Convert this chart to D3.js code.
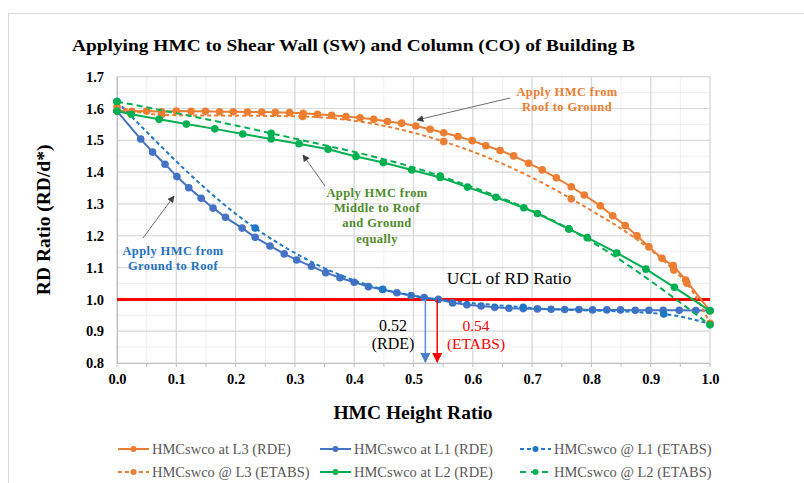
<!DOCTYPE html>
<html><head><meta charset="utf-8">
<script src="https://cdn.jsdelivr.net/npm/d3@7/dist/d3.min.js"></script>
<style>body{margin:0;background:#fff;} svg{display:block;font-family:"Liberation Serif","Times New Roman",serif;}</style>
</head><body><svg id="c" width="804" height="483"></svg>
<script>
// ---------- data ----------
const xTickValues = [0.0,0.1,0.2,0.3,0.4,0.5,0.6,0.7,0.8,0.9,1.0];
const yTickValues = [0.8,0.9,1.0,1.1,1.2,1.3,1.4,1.5,1.6,1.7];
const uclValue = 1.0;

const L3_RDE = [[0,1.592],[0.025,1.591],[0.050,1.592],[0.075,1.590],[0.100,1.592],[0.125,1.591],[0.149,1.591],[0.173,1.590],[0.196,1.590],[0.220,1.589],[0.244,1.589],[0.267,1.588],[0.291,1.587],[0.314,1.585],[0.338,1.582],[0.362,1.579],[0.386,1.575],[0.410,1.571],[0.433,1.566],[0.456,1.559],[0.480,1.554],[0.504,1.545],[0.528,1.535],[0.551,1.524],[0.575,1.512],[0.599,1.499],[0.622,1.483],[0.646,1.468],[0.669,1.451],[0.694,1.428],[0.717,1.407],[0.741,1.382],[0.766,1.354],[0.788,1.328],[0.815,1.294],[0.836,1.263],[0.857,1.232],[0.877,1.200],[0.897,1.165],[0.919,1.129],[0.938,1.106],[0.959,1.061],[1.0,0.964]];
const L1_RDE = [[0,1.592],[0.040,1.504],[0.060,1.463],[0.081,1.425],[0.101,1.386],[0.121,1.351],[0.142,1.318],[0.162,1.287],[0.183,1.258],[0.211,1.224],[0.233,1.195],[0.258,1.168],[0.282,1.143],[0.303,1.124],[0.328,1.104],[0.352,1.084],[0.376,1.068],[0.400,1.054],[0.424,1.040],[0.448,1.031],[0.472,1.021],[0.496,1.012],[0.518,1.006],[0.542,1.000],[0.566,0.989],[0.590,0.983],[0.614,0.979],[0.637,0.975],[0.661,0.972],[0.685,0.971],[0.709,0.970],[0.732,0.969],[0.755,0.968],[0.779,0.968],[0.802,0.967],[0.826,0.967],[0.849,0.967],[0.874,0.966],[0.897,0.966],[0.921,0.966],[0.948,0.966],[0.976,0.965],[1.0,0.965]];
const L1_ETABS = [[0,1.622],[0.233,1.224],[0.448,1.032],[0.685,0.975],[0.922,0.954],[1.0,0.923]];
const L3_ETABS = [[0,1.606],[0.075,1.580],[0.313,1.575],[0.551,1.496],[0.766,1.316],[0.939,1.092],[0.961,1.051],[1.0,0.925]];
const L2_RDE = [[0,1.592],[0.024,1.582],[0.071,1.566],[0.117,1.551],[0.165,1.536],[0.212,1.520],[0.260,1.504],[0.307,1.489],[0.356,1.472],[0.403,1.449],[0.449,1.430],[0.497,1.407],[0.545,1.383],[0.591,1.353],[0.639,1.321],[0.686,1.288],[0.709,1.270],[0.762,1.221],[0.793,1.194],[0.843,1.146],[0.892,1.095],[0.940,1.038],[1.0,0.964]];
const L2_ETABS = [[0,1.622],[0.260,1.522],[0.545,1.388],[0.762,1.222],[1.0,0.920]];

const seriesNames = ["HMCswco at L3 (RDE)","HMCswco at L1 (RDE)","HMCswco @ L1 (ETABS)","HMCswco @ L3 (ETABS)","HMCswco at L2 (RDE)","HMCswco @ L2 (ETABS)"];
const rdeMark = 0.52, etabsMark = 0.54;

// ---------- chart ----------
const svg = d3.select("#c");
const x = d3.scaleLinear().domain([0,1]).range([117,710]);
const y = d3.scaleLinear().domain([0.8,1.7]).range([363,76.7]);

// outer chart border
svg.append("rect").attr("x",8.5).attr("y",13.5).attr("width",820).attr("height",500)
  .attr("fill","none").attr("stroke","#D9D9D9");

// title
svg.append("text").attr("x",72).attr("y",51).attr("font-size",17.5).attr("font-weight","bold")
  .attr("fill","#000").attr("textLength",563).attr("lengthAdjust","spacingAndGlyphs")
  .text("Applying HMC to Shear Wall (SW) and Column (CO) of Building B");

// grid
const g = svg.append("g");
const minorX = d3.range(0,21).map(i=>i*0.05);
const minorY = d3.range(0,19).map(i=>0.8+i*0.05);
g.selectAll(".mx").data(minorX).join("line").attr("x1",d=>x(d)).attr("x2",d=>x(d)).attr("y1",y(0.8)).attr("y2",y(1.7)).attr("stroke","#F0F0F0").attr("stroke-width",1);
g.selectAll(".my").data(minorY).join("line").attr("y1",d=>y(d)).attr("y2",d=>y(d)).attr("x1",x(0)).attr("x2",x(1)).attr("stroke","#F0F0F0").attr("stroke-width",1);
g.selectAll(".gx").data(xTickValues).join("line").attr("x1",d=>x(d)).attr("x2",d=>x(d)).attr("y1",y(0.8)).attr("y2",y(1.7)).attr("stroke","#D9D9D9").attr("stroke-width",1.2);
g.selectAll(".gy").data(yTickValues).join("line").attr("y1",d=>y(d)).attr("y2",d=>y(d)).attr("x1",x(0)).attr("x2",x(1)).attr("stroke","#D9D9D9").attr("stroke-width",1.2);

// axes
const xAxis = d3.axisBottom(x).tickValues(xTickValues).tickFormat(d3.format(".1f")).tickSize(0).tickPadding(11);
const yAxis = d3.axisLeft(y).tickValues(yTickValues).tickFormat(d3.format(".1f")).tickSize(0).tickPadding(13);
const gx = svg.append("g").attr("transform",`translate(0,${y(0.8)})`).call(xAxis);
const gy = svg.append("g").attr("transform",`translate(${x(0)},0)`).call(yAxis);
[gx,gy].forEach(a=>{a.select(".domain").attr("stroke","#BFBFBF").attr("stroke-width",1.2);
  a.selectAll("text").attr("font-family","Liberation Serif").attr("font-size",14.5).attr("font-weight","bold").attr("fill","#000");});
svg.append("g").selectAll("line").data(minorX).join("line").attr("x1",d=>x(d)).attr("x2",d=>x(d))
  .attr("y1",y(0.8)).attr("y2",y(0.8)+4).attr("stroke","#BFBFBF");

// axis titles
svg.append("text").attr("transform",`translate(50,${(y(0.8)+y(1.7))/2}) rotate(-90)`).attr("text-anchor","middle")
  .attr("font-size",19.5).attr("font-weight","bold").text("RD Ratio (RD/d*)");
svg.append("text").attr("x",413).attr("y",419).attr("text-anchor","middle")
  .attr("font-size",19.5).attr("font-weight","bold").text("HMC Height Ratio");

// UCL line
svg.append("line").attr("x1",x(0)).attr("x2",x(1)).attr("y1",y(uclValue)).attr("y2",y(uclValue))
  .attr("stroke","#FF0000").attr("stroke-width",3);

// series
const cOrange="#ED7D31", cBlue="#4472C4", cBlueD="#1F77C8", cGreen="#00B050";
const series = [
  {data:L3_RDE, color:cOrange, dash:null, r:3.8, curve:d3.curveLinear},
  {data:L1_RDE, color:cBlue, dash:null, r:3.8, curve:d3.curveLinear},
  {data:L1_ETABS, color:cBlueD, dash:"4,3", r:3.8, curve:d3.curveMonotoneX},
  {data:L3_ETABS, color:cOrange, dash:"4,3", r:3.8, curve:d3.curveMonotoneX},
  {data:L2_RDE, color:cGreen, dash:null, r:3.8, curve:d3.curveLinear},
  {data:L2_ETABS, color:cGreen, dash:"6,4", r:3.8, curve:d3.curveMonotoneX}
];
series.forEach(s=>{
  const line = d3.line().x(d=>x(d[0])).y(d=>y(d[1])).curve(s.curve);
  svg.append("path").datum(s.data).attr("d",line).attr("fill","none").attr("stroke",s.color)
    .attr("stroke-width",2).attr("stroke-dasharray",s.dash);
  svg.append("g").selectAll("circle").data(s.data).join("circle").attr("cx",d=>x(d[0])).attr("cy",d=>y(d[1]))
    .attr("r",s.r).attr("fill",s.color);
});

// arrow markers
const defs = svg.append("defs");
function mk(id,color){
  defs.append("marker").attr("id",id).attr("viewBox","0 0 10 10").attr("refX",9).attr("refY",5)
    .attr("markerWidth",7).attr("markerHeight",7).attr("orient","auto-start-reverse")
    .append("path").attr("d","M0,0 L10,5 L0,10 z").attr("fill",color);
}
mk("ag","#404040"); mk("ab","#4A7FD0"); mk("ar","#FF0000");

// RDE / ETABS drop arrows
svg.append("line").attr("x1",x(rdeMark)).attr("x2",x(rdeMark)).attr("y1",y(uclValue)).attr("y2",y(0.8)-1)
  .attr("stroke","#5B8FD8").attr("stroke-width",1.5).attr("marker-end","url(#ab)");
svg.append("line").attr("x1",x(etabsMark)).attr("x2",x(etabsMark)).attr("y1",y(uclValue)).attr("y2",y(0.8)-1)
  .attr("stroke","#FF0000").attr("stroke-width",1.5).attr("marker-end","url(#ar)");

const ann = svg.append("g").attr("font-family","Liberation Serif");
ann.append("text").attr("x",393).attr("y",331).attr("text-anchor","middle").attr("font-size",16).text(d3.format(".2f")(rdeMark));
ann.append("text").attr("x",393).attr("y",349).attr("text-anchor","middle").attr("font-size",16).text("(RDE)");
ann.append("text").attr("x",476).attr("y",331).attr("text-anchor","middle").attr("font-size",15.5).attr("fill","#FF0000").text(d3.format(".2f")(etabsMark));
ann.append("text").attr("x",476).attr("y",349).attr("text-anchor","middle").attr("font-size",15.5).attr("fill","#FF0000").text("(ETABS)");
ann.append("text").attr("x",509).attr("y",284).attr("text-anchor","middle").attr("font-size",17.5).text("UCL of RD Ratio");

// callouts
function label(lines,cx,y0,color,dy){
  lines.forEach((t,i)=>ann.append("text").attr("x",cx).attr("y",y0+i*dy).attr("text-anchor","middle")
    .attr("font-size",12.5).attr("font-weight","bold").attr("fill",color).attr("letter-spacing",0.4).text(t));
}
label(["Apply HMC from","Roof to Ground"],567,96,"#ED7D31",14.5);
label(["Apply HMC from","Middle to Roof","and Ground","equally"],377,197,"#4F8A2B",15.2);
label(["Apply HMC from","Ground to Roof"],173,255,"#1F72C0",14.5);
function arrow(x1,y1,x2,y2){
  ann.append("line").attr("x1",x1).attr("y1",y1).attr("x2",x2).attr("y2",y2)
    .attr("stroke","#6E6E6E").attr("stroke-width",1).attr("marker-end","url(#ag)");
}
arrow(510,98,417,120);
arrow(325,186,303,155);
arrow(143,238,174,196);

// legend
const leg = svg.append("g").attr("font-family","Liberation Serif").attr("font-size",14.5).attr("fill","#595959");
const legendCfg = [
  {i:0, lx:118, ly:449, color:cOrange, dash:null},
  {i:1, lx:320, ly:449, color:cBlue, dash:null},
  {i:2, lx:520, ly:449, color:cBlueD, dash:"4,3"},
  {i:3, lx:118, ly:472, color:cOrange, dash:"4,3"},
  {i:4, lx:320, ly:472, color:cGreen, dash:null},
  {i:5, lx:520, ly:472, color:cGreen, dash:"6,5"}
];
legendCfg.forEach(c=>{
  leg.append("line").attr("x1",c.lx).attr("x2",c.lx+31).attr("y1",c.ly).attr("y2",c.ly)
    .attr("stroke",c.color).attr("stroke-width",2).attr("stroke-dasharray",c.dash);
  leg.append("circle").attr("cx",c.lx+15.5).attr("cy",c.ly).attr("r",3).attr("fill",c.color);
  leg.append("text").attr("x",c.lx+34).attr("y",c.ly+5).text(seriesNames[c.i]);
});
</script></body></html>
